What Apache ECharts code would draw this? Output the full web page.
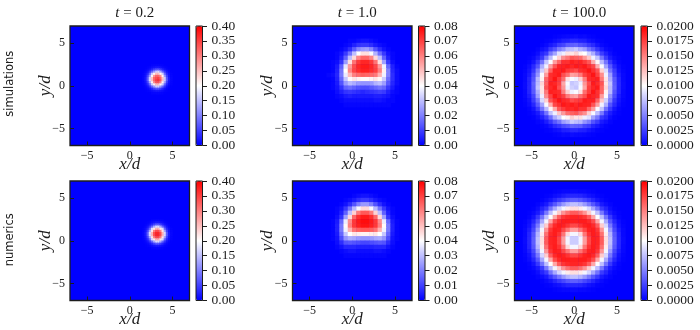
<!DOCTYPE html>
<html><head><meta charset="utf-8">
<style>html,body{margin:0;padding:0;background:#fff}#c{width:700px;height:330px}</style>
<script src="https://cdn.jsdelivr.net/npm/echarts@6/dist/echarts.min.js"></script>
</head><body><div id="c"></div>
<script>
const times = ['0.2', '1.0', '100.0'];
const rowNames = ['simulations', 'numerics'];
const maxima = [0.4, 0.08, 0.02];
const intervals = [0.05, 0.01, 0.0025];
const decimals = [2, 2, 4];
const units = [0.01, 0.001, 0.0001];
const axisTicks = [-5, 0, 5];

const blobSim = [
[0,0,0,.1,.3,.4,.5,.5,.4,.3,.1,0,0,0],
[0,.1,.2,.5,1,1.4,1.9,2,1.5,.9,.5,.2,.1,0],
[0,.2,.6,1.4,3,5,6.5,7,5,3,1.4,.6,.2,0],
[.1,.5,1.4,4,8,12,16,17,13,8,4,1.5,.5,.1],
[.3,1,3,8,16,21,25,25,21,16,8,3,1,.3],
[.4,1.4,5,12,21,28,32,32,29,21,12,5,1.4,.4],
[.5,1.9,6.5,16,25,32,34,35,32,25,16,6.5,1.9,.5],
[.5,2,7,17,25,32,35,36,33,25,16,7,2,.5],
[.4,1.5,5,13,21,29,33,33,29,21,13,5,1.5,.4],
[.3,1,3,8,16,21,25,25,21,16,8,3,1,.3],
[.1,.5,1.4,4,8,12,16,16,12,8,4,1.4,.5,.1],
[0,.2,.6,1.4,3,5,6.5,6.5,5,3,1.4,.6,.2,0],
[0,.1,.2,.5,1,1.4,1.9,1.9,1.4,1,.5,.2,.1,0],
[0,0,0,.1,.3,.4,.5,.5,.4,.3,.1,0,0,0]
];
const blobNum = [
[0,0,0,.1,.3,.4,.5,.5,.4,.3,.1,0,0,0],
[0,.1,.2,.5,1,1.5,2,2,1.5,1,.5,.2,.1,0],
[0,.2,.6,1.5,3,5,7,7,5,3,1.5,.6,.2,0],
[.1,.5,1.5,4,8,13,17,17,13,8,4,1.5,.5,.1],
[.3,1,3,8,17,22,26,26,22,17,8,3,1,.3],
[.4,1.5,5,13,22,30,34,34,30,22,13,5,1.5,.4],
[.5,2,7,17,26,34,37,37,34,26,17,7,2,.5],
[.5,2,7,17,26,34,37,37,34,26,17,7,2,.5],
[.4,1.5,5,13,22,30,34,34,30,22,13,5,1.5,.4],
[.3,1,3,8,17,22,26,26,22,17,8,3,1,.3],
[.1,.5,1.5,4,8,13,17,17,13,8,4,1.5,.5,.1],
[0,.2,.6,1.5,3,5,7,7,5,3,1.5,.6,.2,0],
[0,.1,.2,.5,1,1.5,2,2,1.5,1,.5,.2,.1,0],
[0,0,0,.1,.3,.4,.5,.5,.4,.3,.1,0,0,0]
];
const domeSim = [
[0,0,0,0,0,1,1,2,3,3,2,1,0,0,0,0,0],
[0,0,0,0,1,2,5,8,9,9,7,4,2,1,0,0,0],
[0,0,0,1,3,7,14,21,24,25,21,13,7,3,1,0,0],
[0,0,1,3,9,18,30,40,45,45,39,28,17,9,3,1,0],
[0,0,1,5,15,30,46,59,64,64,59,46,30,15,5,1,0],
[0,1,2,8,24,45,62,71,74,74,71,62,45,25,9,2,0],
[0,1,4,15,36,56,68,74,76,76,74,69,56,38,16,5,1],
[0,1,5,18,40,59,69,73,75,75,73,70,60,42,20,6,2],
[1,2,6,19,37,51,60,63,65,64,63,61,52,38,20,7,2],
[0,1,5,16,31,41,44,42,41,41,42,44,41,32,17,7,2],
[0,1,4,13,24,29,27,24,23,23,24,28,30,25,14,6,2],
[0,1,3,8,15,17,15,13,12,12,14,16,18,16,9,4,1],
[0,0,2,5,8,9,8,7,6,7,8,9,10,9,5,2,1],
[0,0,1,2,4,5,4,4,4,4,4,5,5,4,3,1,0],
[0,0,0,1,2,2,2,2,2,2,2,3,3,2,1,1,0],
[0,0,0,0,1,1,1,1,1,1,1,1,1,1,1,0,0]
];
const domeNum = [
[0,0,0,0,0,0,1,2,3,3,2,1,0,0,0,0,0],
[0,0,0,0,1,2,4,7,9,9,7,4,2,1,0,0,0],
[0,0,0,1,3,7,13,20,24,24,20,13,7,3,1,0,0],
[0,0,1,3,9,18,29,39,46,46,39,29,18,9,3,1,0],
[0,0,1,5,15,30,47,61,66,66,61,47,30,15,5,1,0],
[0,0,2,8,25,46,64,73,76,76,73,64,46,25,8,2,0],
[0,1,4,16,37,58,71,76,78,78,76,71,58,37,16,4,1],
[0,1,5,19,41,60,71,75,77,77,75,71,60,41,19,5,1],
[0,1,5,19,38,52,62,65,66,66,65,62,52,38,19,5,1],
[0,1,4,16,31,40,44,43,42,42,43,44,40,31,16,4,1],
[0,1,3,12,23,27,26,24,23,23,24,26,27,23,12,3,1],
[0,0,2,7,13,14,13,12,11,11,12,13,14,13,7,2,0],
[0,0,1,3,6,6,6,5,5,5,5,6,6,6,3,1,0],
[0,0,0,1,2,3,3,2,2,2,2,3,3,2,1,0,0],
[0,0,0,0,1,1,1,1,1,1,1,1,1,1,0,0,0]
];
const ringSim = [
[0,0,0,0,0,0,0,1,2,3,4,4,5,3,4,2,1,0,0,0,0,0,0,0],
[0,0,0,0,0,1,2,5,8,12,13,16,16,13,12,7,5,2,1,0,0,0,0,0],
[0,0,0,0,1,4,9,14,23,27,36,37,39,33,29,21,16,8,3,1,0,0,0,0],
[0,0,0,2,6,10,23,33,49,58,72,74,79,69,62,45,35,21,11,4,2,0,0,0],
[0,0,1,5,15,22,47,64,88,94,112,110,118,105,100,82,68,43,24,13,5,1,0,0],
[0,1,4,11,22,48,74,98,118,144,154,166,162,158,140,122,94,76,46,24,10,4,1,0],
[0,2,8,22,44,77,99,138,160,181,181,188,184,186,177,166,132,103,73,46,22,8,2,0],
[1,5,16,33,68,94,138,167,186,187,190,185,190,187,191,181,172,132,98,64,35,15,5,1],
[2,8,21,49,82,122,161,187,187,190,178,175,170,182,185,192,181,167,118,86,46,23,7,2],
[3,10,29,58,98,139,182,186,190,169,156,136,140,152,175,184,192,175,145,94,62,27,11,3],
[3,14,33,72,105,160,181,192,177,157,112,98,94,118,151,183,186,188,153,111,68,35,14,3],
[4,14,38,73,116,161,188,185,175,135,98,78,82,94,141,169,190,183,167,110,77,36,15,4],
[4,15,36,77,110,167,184,190,169,141,94,82,78,98,135,175,185,190,161,116,73,38,14,4],
[3,14,35,68,111,153,188,186,183,151,118,94,98,112,157,177,192,181,160,105,72,33,14,3],
[3,11,27,62,94,145,175,192,184,175,152,140,136,156,169,190,186,182,139,98,58,29,10,3],
[2,7,23,46,86,118,167,181,192,185,182,170,175,178,190,187,187,161,122,82,49,21,8,2],
[1,5,15,35,64,98,132,172,181,191,187,190,185,190,187,186,167,138,94,68,33,16,5,1],
[0,2,8,22,46,73,103,132,166,177,186,184,188,181,181,160,138,99,77,44,22,8,2,0],
[0,1,4,10,24,46,76,94,122,140,158,162,166,154,144,118,98,74,48,22,11,4,1,0],
[0,0,1,5,13,24,43,68,82,100,105,118,110,112,94,88,64,47,22,15,5,1,0,0],
[0,0,0,2,4,11,21,35,45,62,69,79,74,72,58,49,33,23,10,6,2,0,0,0],
[0,0,0,0,1,3,8,16,21,29,33,39,37,36,27,23,14,9,4,1,0,0,0,0],
[0,0,0,0,0,1,2,5,7,12,13,16,16,13,12,8,5,2,1,0,0,0,0,0],
[0,0,0,0,0,0,0,1,2,4,3,5,4,4,3,2,1,0,0,0,0,0,0,0]
];
const ringNum = [
[0,0,0,0,0,0,0,1,2,3,3,4,4,3,3,2,1,0,0,0,0,0,0,0],
[0,0,0,0,0,1,2,5,7,11,14,15,15,14,11,7,5,2,1,0,0,0,0,0],
[0,0,0,0,1,4,8,15,22,28,34,37,37,34,28,22,15,8,4,1,0,0,0,0],
[0,0,0,2,5,10,22,34,47,60,70,75,75,70,60,47,34,22,10,5,2,0,0,0],
[0,0,1,5,14,23,45,66,84,96,108,113,113,108,96,84,66,45,23,14,5,1,0,0],
[0,1,4,10,23,47,75,96,120,142,156,164,164,156,142,120,96,75,47,23,10,4,1,0],
[0,2,8,22,45,75,101,135,164,179,184,186,186,184,179,164,135,101,75,45,22,8,2,0],
[1,5,15,34,66,96,135,170,184,189,189,188,188,189,189,184,170,135,96,66,34,15,5,1],
[2,7,22,47,84,120,164,184,190,187,180,172,172,180,187,190,184,164,120,84,47,22,7,2],
[3,11,28,60,96,142,179,189,187,172,154,138,138,154,172,187,189,179,142,96,60,28,11,3],
[3,14,34,70,108,156,184,189,180,154,115,96,96,115,154,180,189,184,156,108,70,34,14,3],
[4,15,37,75,113,164,186,188,172,138,96,80,80,96,138,172,188,186,164,113,75,37,15,4],
[4,15,37,75,113,164,186,188,172,138,96,80,80,96,138,172,188,186,164,113,75,37,15,4],
[3,14,34,70,108,156,184,189,180,154,115,96,96,115,154,180,189,184,156,108,70,34,14,3],
[3,11,28,60,96,142,179,189,187,172,154,138,138,154,172,187,189,179,142,96,60,28,11,3],
[2,7,22,47,84,120,164,184,190,187,180,172,172,180,187,190,184,164,120,84,47,22,7,2],
[1,5,15,34,66,96,135,170,184,189,189,188,188,189,189,184,170,135,96,66,34,15,5,1],
[0,2,8,22,45,75,101,135,164,179,184,186,186,184,179,164,135,101,75,45,22,8,2,0],
[0,1,4,10,23,47,75,96,120,142,156,164,164,156,142,120,96,75,47,23,10,4,1,0],
[0,0,1,5,14,23,45,66,84,96,108,113,113,108,96,84,66,45,23,14,5,1,0,0],
[0,0,0,2,5,10,22,34,47,60,70,75,75,70,60,47,34,22,10,5,2,0,0,0],
[0,0,0,0,1,4,8,15,22,28,34,37,37,34,28,22,15,8,4,1,0,0,0,0],
[0,0,0,0,0,1,2,5,7,11,14,15,15,14,11,7,5,2,1,0,0,0,0,0],
[0,0,0,0,0,0,0,1,2,3,3,4,4,3,3,2,1,0,0,0,0,0,0,0]
];

const panels = [[blobSim, domeSim, ringSim], [blobNum, domeNum, ringNum]];
// cell counts across the -7..7 range, and where each array's first column / top row sits
const cellCount = [56, 28, 28];
const firstCol = [34, 8, 2];
const topRow = [37, 24, 25];

const plotLeft = [70, 292.5, 514.5], plotTop = [26, 181], plotSize = 119.5;
const barLeft = [196, 418.5, 641], barWidth = 6.5;
const ink = '#1c1c1c', serif = '"Liberation Serif", serif';

const grid = [], xAxis = [], yAxis = [], series = [], visualMap = [], title = [], graphic = [];
const range = n => Array.from({length: n}, (_, i) => i);

panels.forEach((row, r) => row.forEach((values, c) => {
  const g = grid.length;
  grid.push({left: plotLeft[c], top: plotTop[r], width: plotSize, height: plotSize, show: true,
    backgroundColor: '#0000ff', borderColor: ink, borderWidth: 1.3, z: 0});
  const xCat = xAxis.length, yCat = yAxis.length;
  xAxis.push({type: 'category', gridIndex: g, show: false, data: range(cellCount[c])});
  yAxis.push({type: 'category', gridIndex: g, show: false, data: range(cellCount[c])});
  xAxis.push({type: 'value', gridIndex: g, position: 'bottom', min: -7, max: 7, z: 5,
    axisLine: {show: false, onZero: false}, splitLine: {show: false},
    axisTick: {inside: true, length: 4, customValues: axisTicks, lineStyle: {color: ink, width: 1}},
    axisLabel: {customValues: axisTicks, margin: 4, color: ink, fontFamily: serif, fontSize: 12,
      formatter: v => String(v).replace('-', '\u2212')},
    name: 'x/d', nameLocation: 'middle', nameGap: 11, nameMoveOverlap: false,
    nameTextStyle: {fontFamily: serif, fontStyle: 'italic', fontSize: 17, color: ink}});
  yAxis.push({type: 'value', gridIndex: g, position: 'left', min: -7, max: 7, z: 5,
    axisLine: {show: false, onZero: false}, splitLine: {show: false},
    axisTick: {inside: true, length: 4, customValues: axisTicks, lineStyle: {color: ink, width: 1}},
    axisLabel: {customValues: axisTicks, margin: 5, color: ink, fontFamily: serif, fontSize: 12,
      formatter: v => String(v).replace('-', '\u2212')},
    name: 'y/d', nameLocation: 'middle', nameGap: 16, nameMoveOverlap: false,
    nameTextStyle: {fontFamily: serif, fontStyle: 'italic', fontSize: 17, color: ink}});

  const data = [];
  values.forEach((cols, i) => cols.forEach((v, j) => {
    if (v > 0) data.push([firstCol[c] + j, topRow[c] - i, v * units[c]]);
  }));
  const s = series.length;
  series.push({type: 'heatmap', xAxisIndex: xCat, yAxisIndex: yCat, data, silent: true,
    progressive: 0, animation: false, emphasis: {disabled: true}, itemStyle: {borderWidth: 0}});
  visualMap.push({type: 'continuous', seriesIndex: s, dimension: 2, min: 0, max: maxima[c],
    calculable: false, hoverLink: false, padding: 0, left: barLeft[c], top: plotTop[r],
    itemWidth: barWidth, itemHeight: plotSize, orient: 'vertical', z: 1,
    inRange: {color: ['#0000ff', '#ffffff', '#ff0000']}});

  const b = grid.length;
  grid.push({left: barLeft[c], top: plotTop[r], width: barWidth, height: plotSize, show: true,
    backgroundColor: 'transparent', borderColor: ink, borderWidth: 1, z: 6});
  xAxis.push({type: 'value', gridIndex: b, show: false, min: 0, max: 1});
  yAxis.push({type: 'value', gridIndex: b, position: 'right', min: 0, max: maxima[c], interval: intervals[c], z: 6,
    axisLine: {show: false, onZero: false}, splitLine: {show: false},
    axisTick: {length: 4.5, lineStyle: {color: ink, width: 1}},
    axisLabel: {margin: 9, color: ink, fontFamily: serif, fontSize: 13.5, showMinLabel: true, showMaxLabel: true,
      formatter: v => v.toFixed(decimals[c])}});

  if (r === 0) title.push({text: '{i|t} = ' + times[c], left: plotLeft[c] + plotSize / 2, top: 1, textAlign: 'center',
    textStyle: {fontFamily: serif, fontSize: 15, fontWeight: 'normal', color: ink,
      rich: {i: {fontFamily: serif, fontStyle: 'italic', fontSize: 15, color: ink}}}});
}));

rowNames.forEach((name, r) => graphic.push({type: 'text', x: 10, y: plotTop[r] + plotSize / 2 - (r ? 1 : 2), rotation: Math.PI / 2,
  style: {text: name, font: '11.5px "DejaVu Sans"', fill: ink, align: 'center', verticalAlign: 'middle'}}));

const chart = echarts.init(document.getElementById('c'), null, {renderer: 'canvas'});
chart.setOption({animation: false, backgroundColor: '#fff', grid, xAxis, yAxis, series, visualMap, title, graphic});
</script></body></html>
